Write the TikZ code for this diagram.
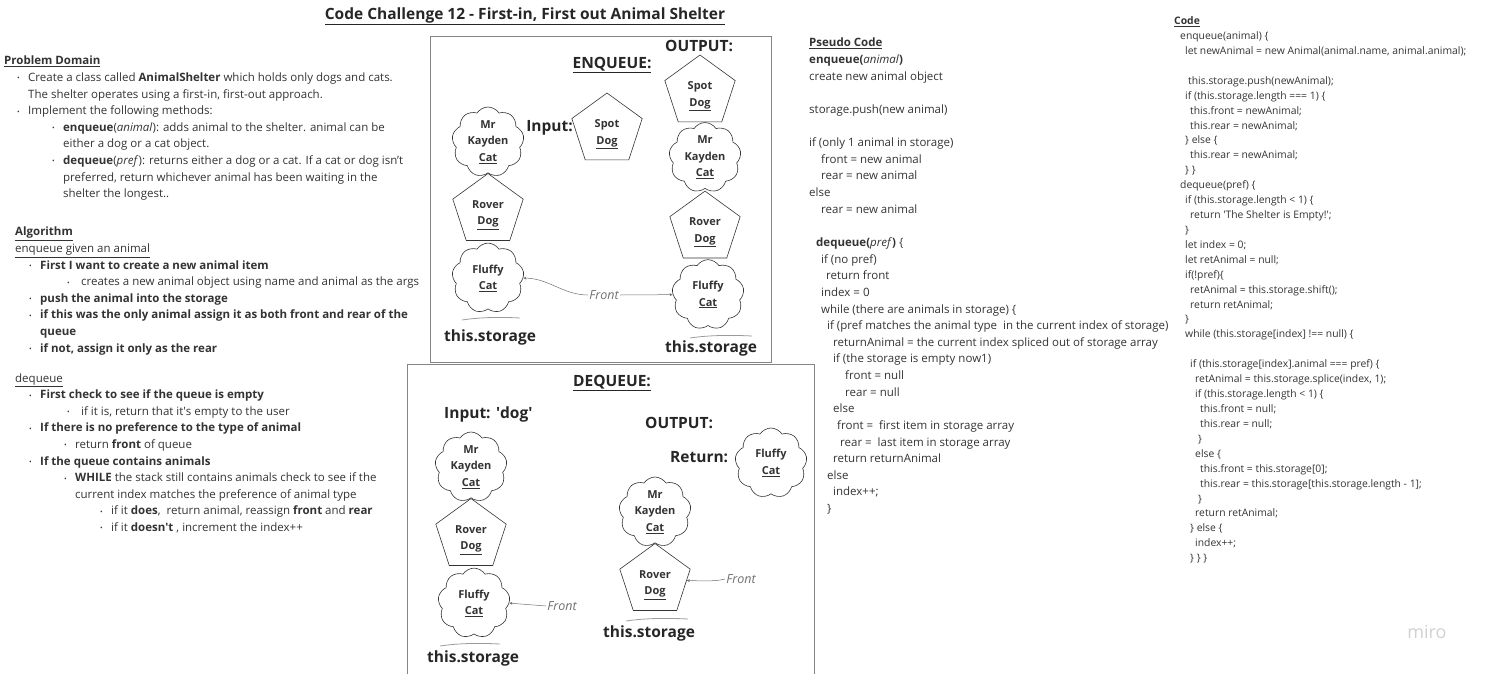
\documentclass[tikz,border=0pt]{standalone}
\usepackage{fontspec}
\setmainfont{Open Sans}
\usetikzlibrary{shapes.geometric,shapes.symbols,arrows.meta,positioning}

\definecolor{ink}{HTML}{333333}
\definecolor{frame}{HTML}{858585}
\definecolor{pencil}{HTML}{707070}

\newcommand{\bl}[1]{\hspace*{#1pt}\makebox[11pt][l]{\raisebox{0.6pt}{\fontsize{7}{7}\selectfont\textbullet}}}
\newcommand{\lift}{\rule{0pt}{16.5pt}}

\begin{document}
\begin{tikzpicture}[x=1pt,y=-1pt,
  txt/.style={anchor=north west,inner sep=0pt,align=left,text=ink,font=\fontsize{11.5}{16.6}\selectfont},
  pcode/.style={txt,font=\fontsize{11.5}{16.63}\selectfont},
  jscode/.style={txt,font=\fontsize{10.35}{14.92}\selectfont},
  bigtxt/.style={inner sep=0pt,text=black!85,font=\bfseries\fontsize{15.5}{18}\selectfont},
  dog/.style={regular polygon,regular polygon sides=5,draw=ink,line width=0.6pt,minimum size=74pt,inner sep=0pt,align=center,text=ink,font=\bfseries\fontsize{11}{16.5}\selectfont},
  cat/.style={cloud,cloud puffs=9,cloud puff arc=115,aspect=1,draw=ink,line width=0.6pt,minimum width=72pt,minimum height=70pt,inner sep=-5pt,align=center,text=ink,font=\bfseries\fontsize{11}{16.5}\selectfont},
  scrawl/.style={inner sep=1pt,text=pencil,font=\itshape\fontsize{12.5}{12}\selectfont},
  pointer/.style={draw=pencil,line width=0.5pt,-{Stealth[length=3pt,width=3pt]}},
  overbar/.style={draw=pencil!70,line width=0.8pt}
]
\useasboundingbox (0,0) rectangle (1485,673);

\node[bigtxt,font=\bfseries\fontsize{15.5}{17}\selectfont] (title) at (525,16)
  {\underline{Code Challenge 12 - First-in, First out Animal Shelter}};

\node[txt] (domain) at (4,56) {\textbf{\underline{Problem Domain}}\\
\bl{13}Create a class called \textbf{AnimalShelter} which holds only dogs and cats.\\
\hspace*{24pt}The shelter operates using a first-in, first-out approach.\\
\bl{13}Implement the following methods:\\
\bl{48}\textbf{enqueue}(\textit{animal}): adds animal to the shelter. animal can be\\
\hspace*{59pt}either a dog or a cat object.\\
\bl{48}\textbf{dequeue}(\textit{pref}): returns either a dog or a cat. If a cat or dog isn't\\
\hspace*{59pt}preferred, return whichever animal has been waiting in the\\
\hspace*{59pt}shelter the longest..};

\node[txt] (algo) at (15,227) {\textbf{\underline{Algorithm}}\\
\underline{enqueue given an animal}\\
\bl{14}\textbf{First I want to create a new animal item}\\
\bl{52}\ creates a new animal object using name and animal as the args\\
\bl{14}\textbf{push the animal into the storage}\\
\bl{14}\textbf{if this was the only animal assign it as both front and rear of the}\\
\hspace*{25pt}\textbf{queue}\\
\bl{14}\textbf{if not, assign it only as the rear}\\[13.4pt]
\underline{dequeue}\\
\bl{14}\textbf{First check to see if the queue is empty}\\
\bl{52}\ if it is, return that it\textquotesingle s empty to the user\\
\bl{14}\textbf{If there is no preference to the type of animal}\\
\bl{49}return \textbf{front} of queue\\
\bl{14}\textbf{If the queue contains animals}\\
\bl{49}\textbf{WHILE} the stack still contains animals check to see if the\\
\hspace*{60pt}current index matches the preference of animal type\\
\bl{85}if it \textbf{does},\ \ return animal, reassign \textbf{front} and \textbf{rear}\\
\bl{85}if it \textbf{doesn\textquotesingle t} , increment the index++};

\node[pcode] (pseudo) at (809,38) {\textbf{\underline{Pseudo Code}}\\
\textbf{enqueue(}\textit{animal}\textbf{)}\\
create new animal object\\
\mbox{}\\
storage.push(new animal)\\
\mbox{}\\
if (only 1 animal in storage)\\
\hspace*{12pt}front = new animal\\
\hspace*{12pt}rear = new animal\\
else\\
\hspace*{12pt}rear = new animal\\
\mbox{}\\
\hspace*{7pt}\textbf{dequeue(}\textit{pref}\textbf{)} \{\\
\hspace*{12pt}if (no pref)\\
\hspace*{17pt}return front\\
\hspace*{12pt}index = 0\\
\hspace*{12pt}while (there are animals in storage) \{\\
\hspace*{18pt}if (pref matches the animal type\ \ in the current index of storage)\\
\hspace*{24pt}returnAnimal = the current index spliced out of storage array\\
\hspace*{24pt}if (the storage is empty now1)\\
\hspace*{36pt}front = null\\
\hspace*{36pt}rear = null\\
\hspace*{24pt}else\\
\hspace*{28pt}front =\ \ first item in storage array\\
\hspace*{31pt}rear =\ \ last item in storage array\\
\hspace*{24pt}return returnAnimal\\
\hspace*{18pt}else\\
\hspace*{24pt}index++;\\
\hspace*{18pt}\}};

\node[jscode] (code) at (1174,16.5) {\textbf{\underline{Code}}\\
\hspace*{6pt}enqueue(animal) \{\\
\hspace*{11pt}let newAnimal = new Animal(animal.name, animal.animal);\\
\mbox{}\\
\hspace*{14pt}this.storage.push(newAnimal);\\
\hspace*{11pt}if (this.storage.length === 1) \{\\
\hspace*{16pt}this.front = newAnimal;\\
\hspace*{16pt}this.rear = newAnimal;\\
\hspace*{11pt}\} else \{\\
\hspace*{16pt}this.rear = newAnimal;\\
\hspace*{11pt}\} \}\\
\hspace*{6pt}dequeue(pref) \{\\
\hspace*{11pt}if (this.storage.length < 1) \{\\
\hspace*{16pt}return \textquotesingle The Shelter is Empty!\textquotesingle;\\
\hspace*{11pt}\}\\
\hspace*{11pt}let index = 0;\\
\hspace*{11pt}let retAnimal = null;\\
\hspace*{11pt}if(!pref)\{\\
\hspace*{16pt}retAnimal = this.storage.shift();\\
\hspace*{16pt}return retAnimal;\\
\hspace*{11pt}\}\\
\hspace*{11pt}while (this.storage[index] !== null) \{\\
\mbox{}\\
\hspace*{16pt}if (this.storage[index].animal === pref) \{\\
\hspace*{21pt}retAnimal = this.storage.splice(index, 1);\\
\hspace*{21pt}if (this.storage.length < 1) \{\\
\hspace*{26pt}this.front = null;\\
\hspace*{26pt}this.rear = null;\\
\hspace*{24pt}\}\\
\hspace*{21pt}else \{\\
\hspace*{26pt}this.front = this.storage[0];\\
\hspace*{26pt}this.rear = this.storage[this.storage.length - 1];\\
\hspace*{24pt}\}\\
\hspace*{21pt}return retAnimal;\\
\hspace*{16pt}\} else \{\\
\hspace*{21pt}index++;\\
\hspace*{16pt}\} \} \}};

% enqueue board
\draw[frame,line width=1pt] (430,36) rectangle (771,362);
\node[bigtxt] (enqT) at (612,65) {\underline{ENQUEUE:}};
\node[bigtxt,anchor=west] (outA) at (665,46) {OUTPUT:};
\node[dog] (spotIn) at (607,130) {\lift Spot\\\underline{Dog}};
\node[bigtxt,anchor=east] (inA) at (573,128) {Input:};

\node[cat] (kaydenA) at (488,142) {Mr\\Kayden\\\underline{Cat}};
\node[dog,below=0pt of kaydenA] (roverA) {\lift Rover\\\underline{Dog}};
\node[cat,below=2pt of roverA] (fluffyA) {Fluffy\\\underline{Cat}};
\node[bigtxt,anchor=west] (storA) at (444,337) {this.storage};

\node[dog] (spotOut) at (700,92) {\lift Spot\\\underline{Dog}};
\node[cat,below=0pt of spotOut,xshift=5pt] (kaydenB) {Mr\\Kayden\\\underline{Cat}};
\node[dog,below=2pt of kaydenB] (roverB) {\lift Rover\\\underline{Dog}};
\node[cat,below=1pt of roverB,xshift=3pt] (fluffyB) {Fluffy\\\underline{Cat}};
\node[bigtxt,anchor=west] (storB) at (665,348) {this.storage};

\node[scrawl] (frontA) at (604,295) {Front};
\draw[pointer] (frontA.west) .. controls +(-25,0) and +(25,0) .. (fluffyA.east);
\draw[pointer] (frontA.east) -- (fluffyB.west);
\draw[overbar] (462,320) .. controls (482,317) and (502,317) .. (520,318);
\draw[overbar] (690,338) .. controls (710,335) and (732,335) .. (752,336);

% dequeue board
\draw[frame,line width=1pt] (407,676) -- (407,364) -- (814,364) -- (814,676);
\node[bigtxt] (deqT) at (612,383) {\underline{DEQUEUE:}};
\node[bigtxt,anchor=west] (inC) at (444,414) {Input: \textquotesingle dog\textquotesingle};
\node[bigtxt,anchor=west] (outC) at (645,423) {OUTPUT:};
\node[bigtxt,anchor=west] (retC) at (670,457) {Return:};
\node[cat] (fluffyR) at (771,463) {Fluffy\\\underline{Cat}};

\node[cat] (kaydenC) at (471,467) {Mr\\Kayden\\\underline{Cat}};
\node[dog,below=0pt of kaydenC] (roverC) {\lift Rover\\\underline{Dog}};
\node[cat,below=2pt of roverC,xshift=3pt] (fluffyC) {Fluffy\\\underline{Cat}};
\node[bigtxt,anchor=west] (storC) at (427,658) {this.storage};

\node[cat] (kaydenD) at (655,512) {Mr\\Kayden\\\underline{Cat}};
\node[dog,below=0pt of kaydenD] (roverD) {\lift Rover\\\underline{Dog}};
\node[bigtxt,anchor=west] (storD) at (603,633) {this.storage};

\node[scrawl] (frontC) at (562,606) {Front};
\draw[pointer] (frontC.west) -- (fluffyC.east);
\node[scrawl] (frontD) at (741,579) {Front};
\draw[pointer] (frontD.west) .. controls +(-12,3) and +(12,0) .. (roverD.east);
\draw[overbar] (440,646) .. controls (460,643) and (480,643) .. (500,644);
\draw[overbar] (626,621) .. controls (646,618) and (668,618) .. (688,619);

\node[text=black!18,font=\fontsize{18}{18}\selectfont] (miro) at (1427,632) {miro};
\end{tikzpicture}
\end{document}
